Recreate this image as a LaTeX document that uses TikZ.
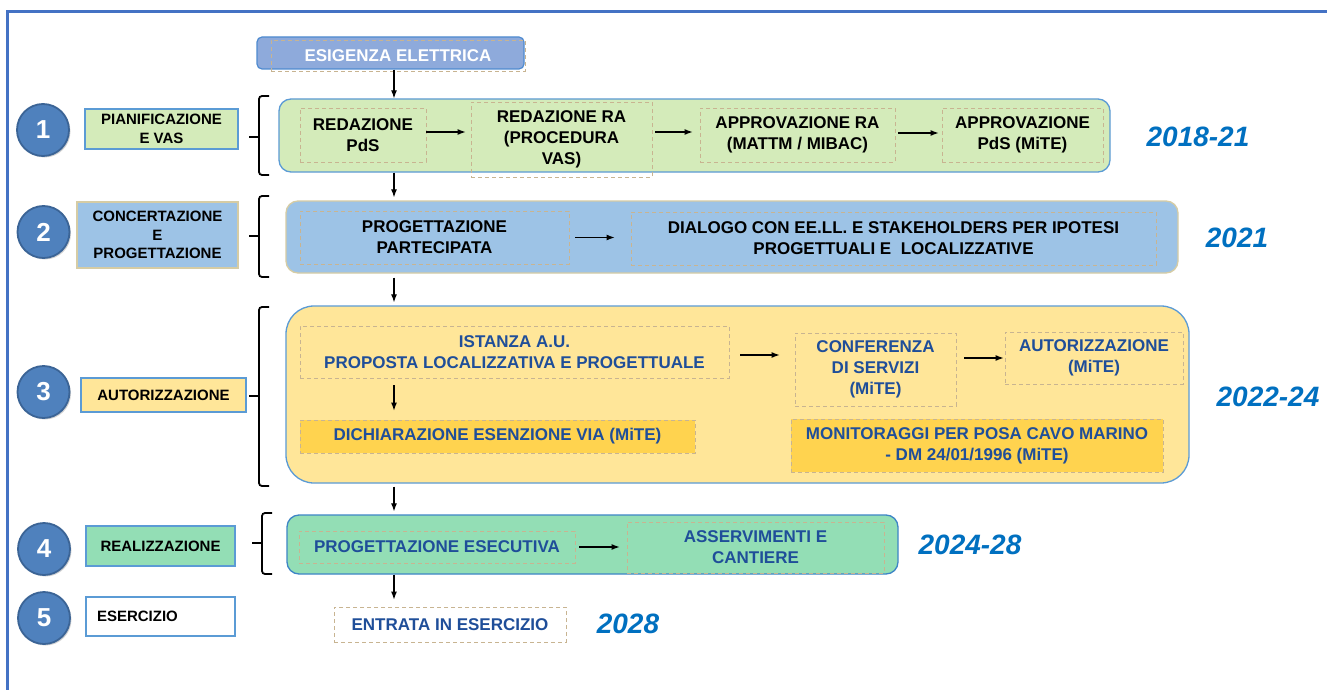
\documentclass[tikz,border=0pt]{standalone}
\usepackage{fontspec}
\setmainfont{Liberation Sans}
\usetikzlibrary{arrows.meta,shadows}
\definecolor{framec}{HTML}{4472C4}
\definecolor{rowline}{HTML}{5B9BD5}
\definecolor{tanline}{HTML}{D6CCA4}
\definecolor{dashc}{HTML}{C8B491}
\definecolor{gfill}{HTML}{D4EBBA}
\definecolor{bfill}{HTML}{9DC3E6}
\definecolor{yfill}{HTML}{FFE699}
\definecolor{ydark}{HTML}{FFD34F}
\definecolor{mfill}{HTML}{93DEB5}
\definecolor{mline}{HTML}{3D85C6}
\definecolor{dblue}{HTML}{1F4E99}
\definecolor{yearc}{HTML}{0070C0}
\definecolor{circf}{HTML}{4F81BD}
\definecolor{circd}{HTML}{3B6496}
\definecolor{esfill}{HTML}{8EAADB}
\definecolor{esline}{HTML}{4F8BD0}
\newcommand\rowfont{\fontsize{17}{21}\selectfont\bfseries}
\newcommand\labfont{\fontsize{15}{18.5}\selectfont\bfseries}
\newcommand\yearfont{\fontsize{28}{30}\selectfont\bfseries\itshape}
\newcommand\numfont{\fontsize{26}{26}\selectfont\bfseries}
\tikzset{
 rowbox/.style={draw=rowline, line width=1.3pt, rounded corners=12pt, inner sep=0pt},
 dbox/.style={draw=dashc, line width=0.8pt, dash pattern=on 4pt off 3pt, inner sep=0pt, align=center, font=\rowfont},
 lbox/.style={line width=1.2pt, inner sep=0pt, align=center, font=\labfont, text=black},
 num/.style={circle, fill=circf, draw=circd, line width=1.8pt, minimum size=52pt, inner sep=0pt, text=white, font=\numfont, drop shadow={opacity=0.35,shadow xshift=1.5pt,shadow yshift=-1.5pt}},
 year/.style={text=yearc, font=\yearfont, inner sep=0pt},
 arr/.style={-{Latex[length=8pt,width=6pt]}, line width=1.2pt, draw=black},
 brk/.style={line width=1.8pt, rounded corners=3pt},
}
\begin{document}
\begin{tikzpicture}[x=1pt,y=-1pt]
\useasboundingbox (0,0) rectangle (1327,690);
\fill[white] (0,0) rectangle (1327,690);
% frame
\draw[framec, line width=3pt] (7,690) -- (7,12) -- (1327,12);
\coordinate (sp) at (394,0);
\coordinate (h1) at (0,132);
\coordinate (h2) at (0,133);
\coordinate (h3) at (0,355);

% ESIGENZA
\node[draw=esline, fill=esfill, line width=1.2pt, rounded corners=5pt, minimum width=267pt, minimum height=32pt] (es) at (390.5,53) {};
\node[dbox, text=white, minimum width=254pt, minimum height=31pt] (esd) at (398,55.5) {ESIGENZA ELETTRICA};

% ROW 1
\node[num] (c1) at (43,130) {1};
\node[lbox, draw=rowline, fill=gfill, minimum width=153pt, minimum height=40pt] (l1) at (161.5,129) {PIANIFICAZIONE\\E VAS};
\draw[brk] (269,96) -- (259,96) -- (259,175) -- (269,175);
\draw[brk] (259,137) -- (249,137);
\node[rowbox, fill=gfill, minimum width=831pt, minimum height=73pt] (r1) at (694.5,135.5) {};
\node[dbox, minimum width=126pt, minimum height=54pt] (a1) at (363,135) {REDAZIONE\\PdS};
\node[dbox, minimum width=181pt, minimum height=75pt] (a2) at (561.5,139.5) {REDAZIONE RA\\(PROCEDURA\\VAS)};
\node[dbox, minimum width=195pt, minimum height=54pt] (a3) at (797.5,135) {APPROVAZIONE RA\\(MATTM / MIBAC)};
\node[dbox, minimum width=161pt, minimum height=54pt] (a4) at (1022.5,135) {APPROVAZIONE\\PdS (MiTE)};
\node[year] (y1) at (1198,137) {2018-21};
\draw[arr, shorten >=5pt] (a1.east |- h1) -- (a2.west |- h1);
\draw[arr, shorten <=3pt, shorten >=7pt] (a2.east |- h1) -- (a3.west |- h1);
\draw[arr, shorten <=3pt, shorten >=3pt] (a3.east |- h2) -- (a4.west |- h2);

% ROW 2
\node[num] (c2) at (43.5,232) {2};
\node[lbox, draw=tanline, fill=bfill, minimum width=161pt, minimum height=66pt] (l2) at (157.5,235) {CONCERTAZIONE\\E\\PROGETTAZIONE};
\draw[brk] (269,196) -- (259,196) -- (259,277) -- (269,277);
\draw[brk] (259,236) -- (249,236);
\node[rowbox, draw=tanline, fill=bfill, minimum width=892pt, minimum height=72pt] (r2) at (732,237) {};
\node[dbox, minimum width=269pt, minimum height=53pt] (b1) at (434.5,237.5) {PROGETTAZIONE\\PARTECIPATA};
\node[dbox, minimum width=525pt, minimum height=53pt] (b2) at (893.5,238.5) {DIALOGO CON EE.LL. E STAKEHOLDERS PER IPOTESI\\PROGETTUALI E~ LOCALIZZATIVE};
\node[year] (y2) at (1237,238) {2021};
\draw[arr, shorten <=6pt, shorten >=16pt] (b1.east) -- (b1.east -| b2.west);

% ROW 3
\node[num] (c3) at (43.5,392) {3};
\node[lbox, draw=rowline, fill=yfill, minimum width=165pt, minimum height=34pt] (l3) at (163.5,395) {AUTORIZZAZIONE};
\draw[brk] (269,307) -- (259,307) -- (259,486) -- (269,486);
\draw[brk] (259,396) -- (249,396);
\node[rowbox, rounded corners=28pt, fill=yfill, minimum width=903pt, minimum height=177pt] (r3) at (737.5,394.5) {};
\node[dbox, text=dblue, minimum width=429pt, minimum height=52pt] (i1) at (514.5,352) {ISTANZA A.U.\\PROPOSTA LOCALIZZATIVA E PROGETTUALE};
\node[dbox, text=dblue, minimum width=161pt, minimum height=73pt] (i2) at (875.5,369.5) {CONFERENZA\\DI SERVIZI\\(MiTE)};
\node[dbox, text=dblue, minimum width=178pt, minimum height=52pt] (i3) at (1094,358) {AUTORIZZAZIONE\\(MiTE)};
\node[dbox, text=dblue, fill=ydark, minimum width=395pt, minimum height=33pt] (i4) at (497.5,436.5) {DICHIARAZIONE ESENZIONE VIA (MiTE)};
\node[dbox, text=dblue, fill=ydark, minimum width=372pt, minimum height=53pt] (i5) at (977,445.5) {MONITORAGGI PER POSA CAVO MARINO\\- DM 24/01/1996 (MiTE)};
\node[year] (y3) at (1268,397) {2022-24};
\draw[arr, shorten <=11pt, shorten >=15pt] (i1.east |- h3) -- (i2.west |- h3);
\draw[arr, shorten <=8pt, shorten >=1pt] (i2.east |- i3.west) -- (i3.west);
\draw[arr, shorten <=7pt, shorten >=9pt] (sp |- i1.south) -- (sp |- i4.north);

% ROW 4
\node[num] (c4) at (44,549) {4};
\node[lbox, draw=rowline, fill=mfill, minimum width=149pt, minimum height=40pt] (l4) at (160.5,546) {REALIZZAZIONE};
\draw[brk] (272,513) -- (262,513) -- (262,574) -- (272,574);
\draw[brk] (262,543) -- (252,543);
\node[rowbox, draw=mline, fill=mfill, minimum width=611pt, minimum height=59pt] (r4) at (592.5,544.5) {};
\node[dbox, text=dblue, minimum width=276pt, minimum height=32pt] (e1) at (437,547) {PROGETTAZIONE ESECUTIVA};
\node[dbox, text=dblue, minimum width=257pt, minimum height=51pt] (e2) at (755.5,547.5) {ASSERVIMENTI E\\CANTIERE};
\node[year] (y4) at (970,545) {2024-28};
\draw[arr, shorten <=4pt, shorten >=7pt] (e1.east) -- (e1.east -| e2.west);

% ROW 5
\node[num] (c5) at (44,618) {5};
\node[lbox, draw=rowline, fill=white, minimum width=149pt, minimum height=39pt, text width=127pt, align=left] (l5) at (160.5,616.5) {ESERCIZIO};
\node[dbox, text=dblue, fill=white, minimum width=232pt, minimum height=35pt] (f1) at (450,624.5) {ENTRATA IN ESERCIZIO};
\node[year] (y5) at (628,624) {2028};

% vertical flow arrows
\draw[arr] (sp |- es.south) -- (sp |- r1.north);
\draw[arr, shorten >=3pt] (sp |- r1.south) -- (sp |- r2.north);
\draw[arr, shorten <=4pt, shorten >=3pt] (sp |- r2.south) -- (sp |- r3.north);
\draw[arr, shorten <=3pt, shorten >=3pt] (sp |- r3.south) -- (sp |- r4.north);
\draw[arr, shorten >=7pt] (sp |- r4.south) -- (sp |- f1.north);
\end{tikzpicture}
\end{document}
